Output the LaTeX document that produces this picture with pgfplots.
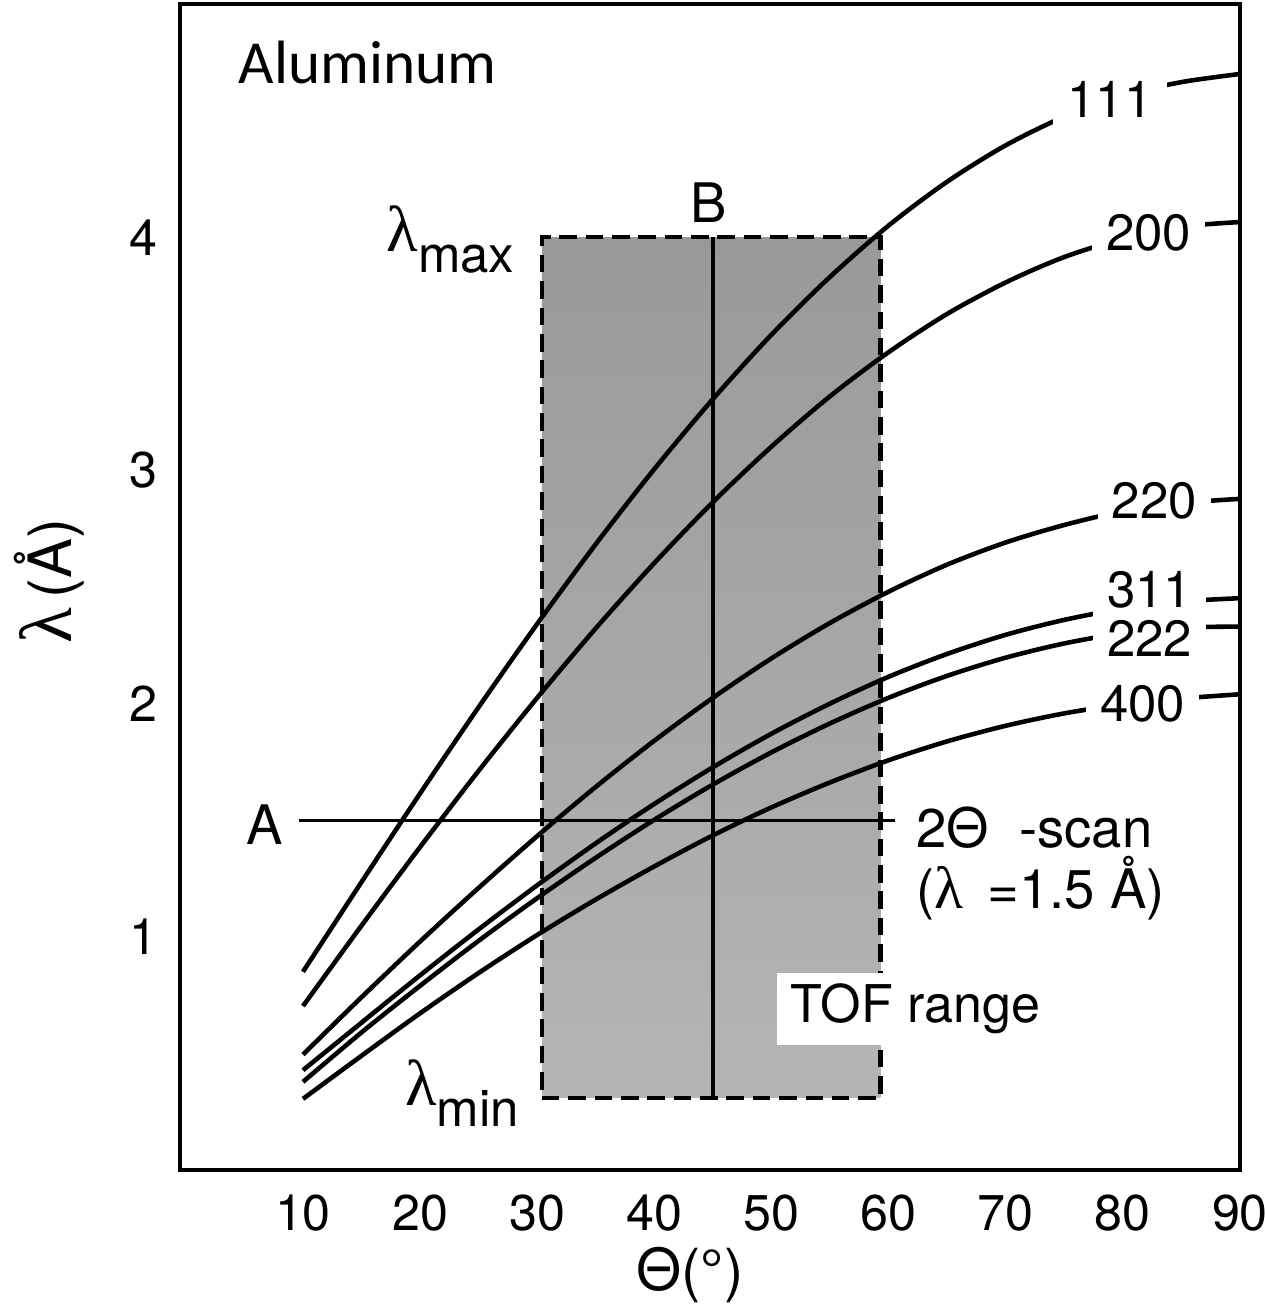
\documentclass[border=0pt]{standalone}
\usepackage{fontspec}
\setmainfont{TeX Gyre Heros}
\newfontfamily\grk{Liberation Serif}
\newfontfamily\calib{Carlito}
\usepackage{pgfplots}
\pgfplotsset{compat=1.18}
\newcommand{\lam}{{\grk λ}}
\newcommand{\Th}{Θ}
\begin{document}
\begin{tikzpicture}
\begin{axis}[
  scale only axis, width=10.60cm, height=11.66cm,
  at={(0,0)}, anchor=south west,
  xmin=-0.5, xmax=90, ymin=0, ymax=5,
  axis line style={line width=1.2pt},
  xtick={10,20,...,90}, ytick={1,2,3,4},
  major tick length=0pt,
  tick label style={font=\fontsize{14.3}{16}\selectfont},
  /pgf/number format/assume math mode=true,
  xticklabel style={anchor=center, yshift=-0.43cm},
  yticklabel style={anchor=center, xshift=-0.37cm},
  xlabel={\Th(°)}, ylabel={{\fontsize{21}{22}\selectfont\lam}\,(Å)},
  every axis x label/.style={at={(rel axis cs:0.481,-0.09)}, anchor=center, font=\fontsize{16.5}{18}\selectfont},
  every axis y label/.style={at={(rel axis cs:-0.123,0.505)}, rotate=90, anchor=center, font=\fontsize{17}{19}\selectfont},
  clip=false,
]
% TOF range rectangle
\addplot[draw=none, top color=black!40, bottom color=black!29]
  coordinates {(30.4,0.31) (59.3,0.31) (59.3,4) (30.4,4)} -- cycle;
\addplot[line width=1.2pt, dash pattern=on 5pt off 2.5pt]
  coordinates {(30.4,0.31) (59.3,0.31) (59.3,4) (30.4,4) (30.4,0.31)};
% Bragg curves
\addplot[line width=1.3pt, smooth] coordinates {
(10,0.850) (15,1.235) (20,1.615) (25,1.985) (30,2.342) (35,2.684) (40,3.006) (45,3.306) (50,3.582)
(55,3.830) (60,4.050) (65,4.238) (70,4.394) (75,4.517) (80,4.608) (85,4.665) (90,4.700)};
\addplot[line width=1.3pt, smooth] coordinates {
(10,0.703) (15,1.048) (20,1.385) (25,1.712) (30,2.025) (35,2.323) (40,2.603) (45,2.864) (50,3.102)
(55,3.318) (60,3.507) (65,3.671) (70,3.806) (75,3.915) (80,3.993) (85,4.045) (90,4.065)};
\addplot[line width=1.3pt, smooth] coordinates {
(10,0.495) (15,0.741) (20,0.980) (25,1.210) (30,1.432) (35,1.643) (40,1.841) (45,2.025) (50,2.194)
(55,2.346) (60,2.480) (65,2.596) (70,2.691) (75,2.766) (80,2.825) (85,2.860) (90,2.878)};
\addplot[line width=1.3pt, smooth] coordinates {
(10,0.428) (15,0.632) (20,0.835) (25,1.032) (30,1.221) (35,1.401) (40,1.570) (45,1.727) (50,1.871)
(55,2.000) (60,2.115) (65,2.213) (70,2.295) (75,2.359) (80,2.407) (85,2.438) (90,2.452)};
\addplot[line width=1.3pt, smooth] coordinates {
(10,0.378) (15,0.590) (20,0.790) (25,0.983) (30,1.166) (35,1.339) (40,1.502) (45,1.653) (50,1.791)
(55,1.915) (60,2.025) (65,2.119) (70,2.197) (75,2.258) (80,2.302) (85,2.326) (90,2.330)};
\addplot[line width=1.3pt, smooth] coordinates {
(10,0.305) (15,0.490) (20,0.672) (25,0.845) (30,1.008) (35,1.160) (40,1.302) (45,1.435) (50,1.555)
(55,1.662) (60,1.757) (65,1.838) (70,1.905) (75,1.958) (80,1.997) (85,2.022) (90,2.040)};
% scan lines
\addplot[line width=0.9pt] coordinates {(45,0.31) (45,4)};
\addplot[line width=0.9pt] coordinates {(9.66,1.5) (60.56,1.5)};
% labels
\begin{scope}[every node/.style={font=\fontsize{14.5}{16}\selectfont}]
\node[fill=white, inner xsep=4pt, inner ysep=2pt] at (axis cs:78.9,4.59) {111};
\node[fill=white, inner xsep=4pt, inner ysep=2pt] at (axis cs:82.2,4.02) {200};
\node[fill=white, inner xsep=4pt, inner ysep=2pt] at (axis cs:82.7,2.87) {220};
\node[fill=white, inner xsep=4pt, inner ysep=2pt] at (axis cs:82.3,2.49) {311};
\node[fill=white, inner xsep=4pt, inner ysep=2pt] at (axis cs:82.3,2.28) {222};
\node[fill=white, inner xsep=4pt, inner ysep=2pt] at (axis cs:81.7,2.00) {400};
\node[font=\fontsize{15.5}{17}\selectfont] at (axis cs:44.6,4.15) {B};
\node[font=\fontsize{15.5}{17}\selectfont] at (axis cs:6.76,1.48) {A};
\node[anchor=east, inner sep=0pt] at (axis cs:28.1,3.99) {{\fontsize{18.5}{20}\selectfont\lam}\raisebox{-0.4em}{max}};
\node[anchor=east, inner sep=0pt] at (axis cs:28.5,0.33) {{\fontsize{18.5}{20}\selectfont\lam}\raisebox{-0.4em}{min}};
\node[anchor=west, inner sep=0pt, font=\fontsize{15.5}{17}\selectfont] at (axis cs:62.3,1.47) {2\Th\ \ -scan};
\node[anchor=west, inner sep=0pt, font=\fontsize{15.5}{17}\selectfont] at (axis cs:62.3,1.21) {({\fontsize{17}{18}\selectfont\lam}\ \,=1.5 Å)};
\node[anchor=west, fill=white, inner xsep=4pt, inner ysep=3pt, font=\fontsize{14.8}{16}\selectfont] at (axis cs:50.4,0.69) {TOF range};
\node[anchor=west, inner sep=0pt, font=\calib\fontsize{17.4}{20}\selectfont] at (axis cs:4.45,4.75) {Aluminum};
\end{scope}
\end{axis}
\pgfresetboundingbox
\path[use as bounding box] (-1.80,-1.43) rectangle (10.85,11.70);
\end{tikzpicture}
\end{document}
